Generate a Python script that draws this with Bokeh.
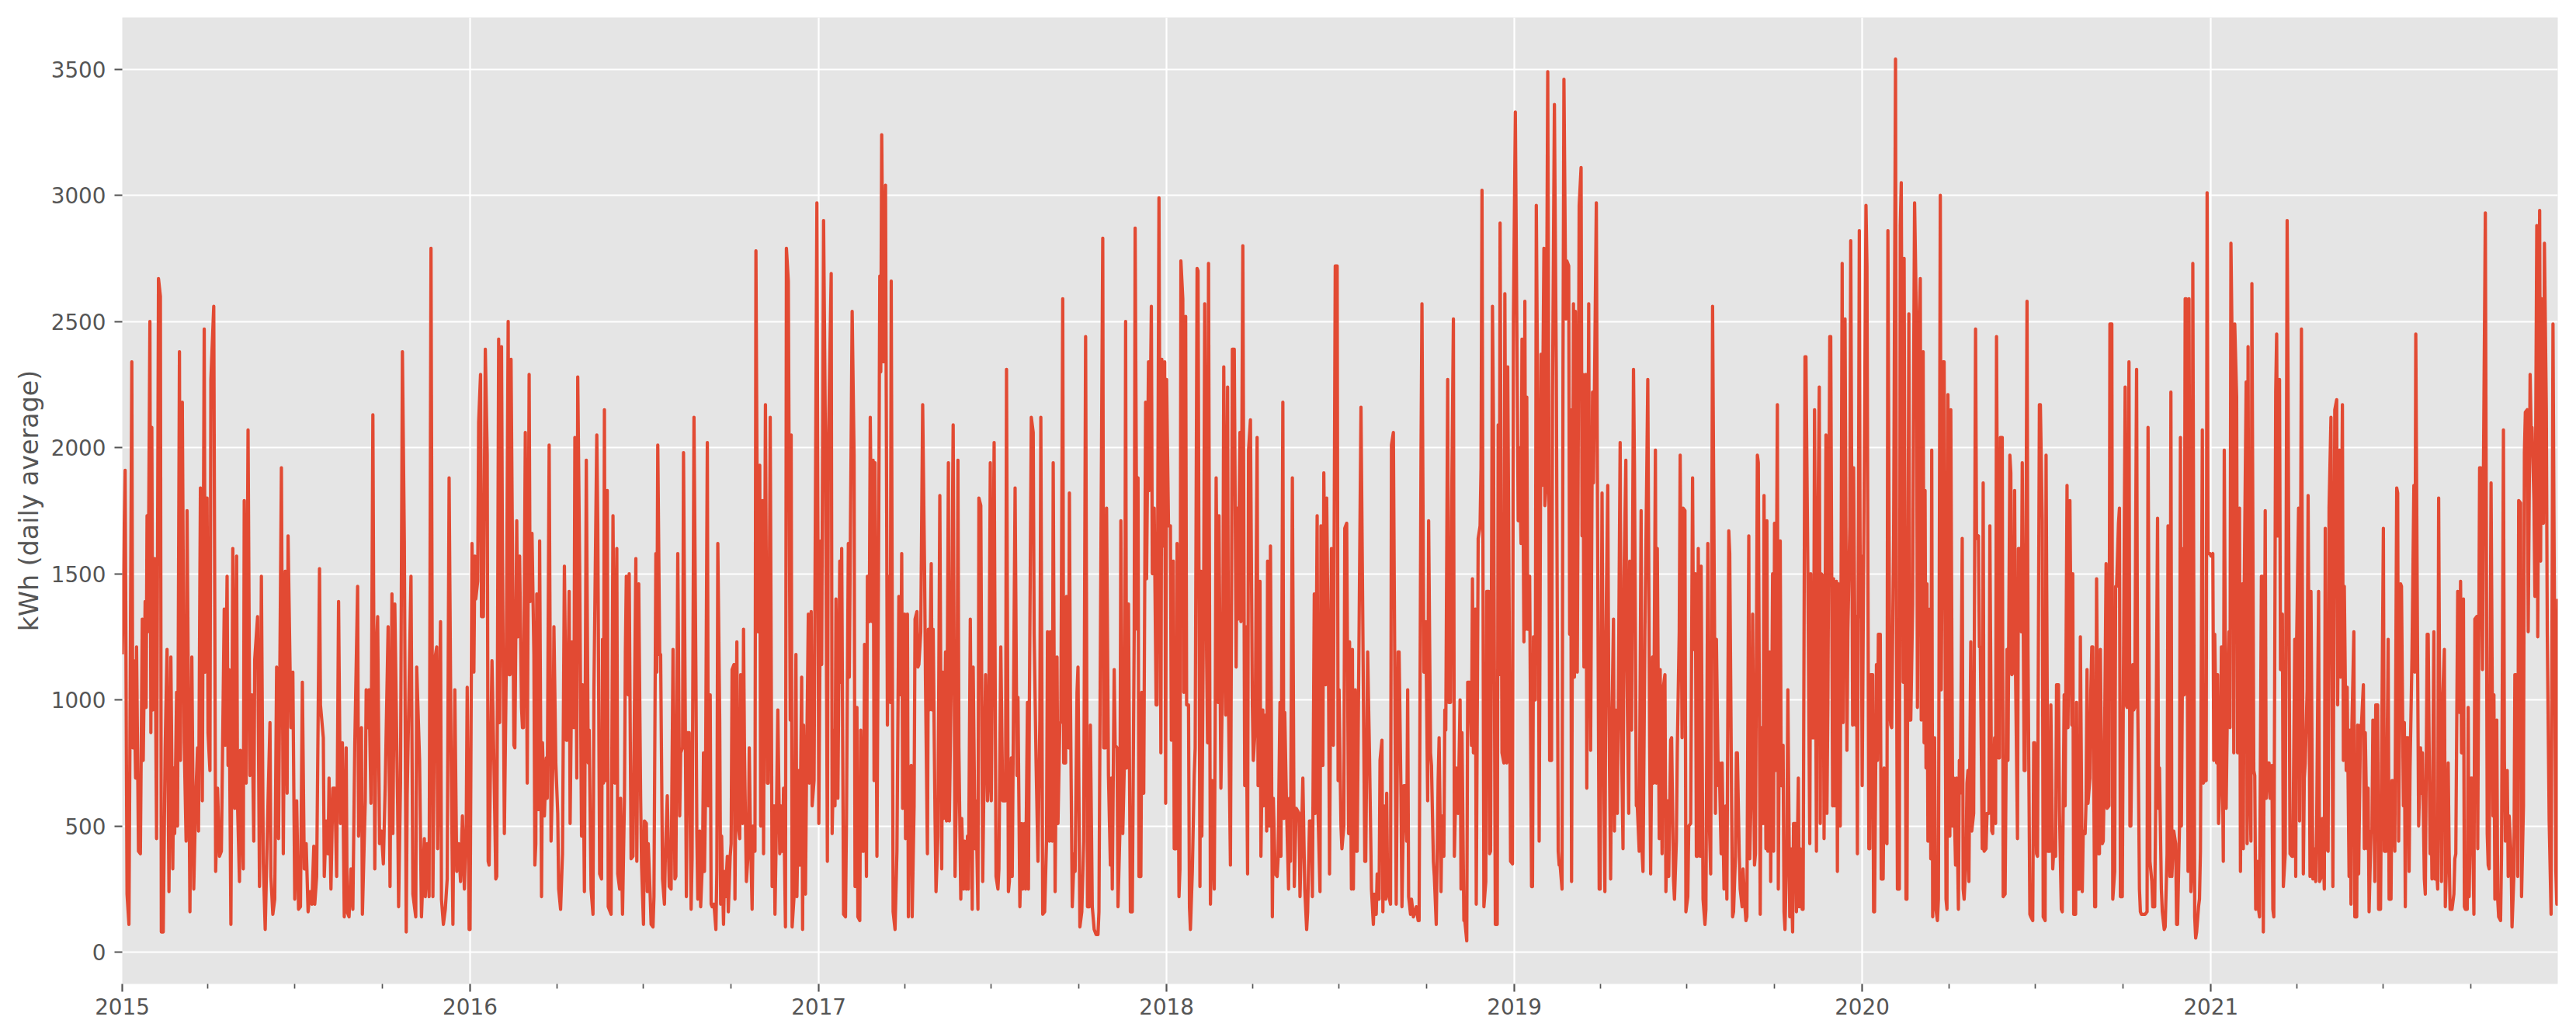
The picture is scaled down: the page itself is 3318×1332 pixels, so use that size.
from datetime import datetime, timedelta
from bokeh.plotting import figure
from bokeh.models import ColumnDataSource, FixedTicker, DatetimeTickFormatter, Range1d
from bokeh.embed import file_html
from bokeh.resources import INLINE

# (day of year offset, kWh daily average), one list per year
y2015 = [(0,1180),(3,1910),(5,230),(7,110),(8,810),(10,2340),(11,810),(12,1155),(14,690),(15,1210),(17,400),(19,390),(21,1320),(22,760),(24,1390),(25,970),(26,1730),(27,1270),(29,2500),(30,870),(31,2080),(32,960),(34,1560),(35,990),(36,450),(38,2670),(40,2600),(41,80),(43,80),(45,810),(47,1200),(49,240),(51,1170),(53,330),(54,730),(55,470),(57,1030),(58,500),(60,2380),(61,760),(63,2180),(65,830),(67,440),(68,1750),(71,160),(73,1170),(75,250),(77,600),(79,810),(80,480),(82,1840),(84,600),(86,2470),(87,1110),(89,1800),(90,870),(92,720),(93,2270),(96,2560),(98,320),(100,650),(102,380),(104,400),(107,1360),(108,820),(110,1490),(111,740),(112,1120),(114,110),(116,1600),(118,570),(120,1570),(121,580),(123,280),(124,800),(127,330),(128,1790),(130,670),(132,2070),(134,700),(136,1020),(138,440),(139,1160),(142,1330),(144,260),(146,1490),(148,350),(150,90),(153,600),(155,910),(156,300),(158,150),(160,210),(162,1130),(164,450),(167,1920),(169,390),(171,1510),(173,630),(174,1650),(177,890),(179,1110),(181,210),(183,600),(185,170),(187,180),(189,1070),(191,330),(193,430),(195,160),(197,240),(199,190),(201,420),(202,190),(204,300),(207,1520),(208,980),(211,850),(212,300),(214,520),(216,390),(217,690),(219,250),(221,650),(223,650),(225,300),(227,1390),(229,510),(231,830),(233,140),(235,810),(236,160),(238,140),(240,330),(242,170),(244,820),(247,1450),(248,460),(251,890),(252,150),(255,600),(256,1040),(258,890),(259,1040),(261,590),(263,2130),(265,330),(267,1230),(268,1330),(270,430),(272,480),(274,350),(276,670),(279,1290),(281,260),(283,1420),(284,470),(286,1380),(289,580),(290,180),(292,670),(294,2380),(296,1630),(298,80),(299,620),(303,1490),(305,230),(308,140),(309,1130),(312,760),(314,140),(317,450),(318,220),(320,430),(322,220),(324,2790),(326,220),(328,1160),(330,1210),(331,410),(334,1310),(335,210),(337,110),(339,170),(341,290),(343,1880),(345,820),(347,110),(349,1040),(351,320),(353,430),(355,280),(357,540),(359,250),(361,510),(362,1050),(364,90)]

y2016 = [(0,90),(2,1620),(4,1110),(5,1570),(6,1400),(8,1470),(9,2100),(11,2290),(12,1330),(14,1330),(16,2390),(18,1970),(19,360),(20,345),(23,1155),(25,760),(27,290),(28,300),(30,2430),(31,910),(33,2400),(34,1570),(36,470),(38,1130),(40,2500),(41,1100),(42,1100),(43,2350),(46,820),(47,810),(49,1710),(50,1250),(52,1570),(54,970),(55,890),(56,890),(58,2060),(60,670),(62,2290),(63,1390),(65,1660),(67,1180),(68,345),(69,430),(70,1420),(72,565),(73,1630),(75,220),(76,830),(78,540),(80,770),(81,610),(83,2010),(85,440),(87,760),(88,1290),(90,750),(92,550),(93,250),(95,170),(97,390),(99,1530),(101,840),(102,840),(104,1430),(105,510),(107,1230),(109,890),(110,2040),(112,690),(113,2280),(115,1530),(117,460),(118,1060),(120,240),(122,1950),(124,750),(125,880),(127,250),(129,150),(130,1040),(133,2050),(134,1700),(136,310),(138,290),(139,1240),(140,670),(141,2150),(142,680),(144,1830),(145,180),(148,150),(150,1730),(152,670),(154,1600),(155,310),(157,250),(158,610),(160,150),(162,600),(163,1190),(164,1490),(166,1020),(167,1500),(169,370),(171,380),(174,1560),(175,360),(177,1460),(179,610),(180,345),(182,110),(183,520),(185,510),(186,240),(187,430),(189,230),(190,110),(192,100),(193,220),(195,1580),(196,1110),(197,2010),(199,1180),(200,1180),(202,290),(204,190),(205,390),(207,620),(209,260),(211,250),(213,1200),(215,290),(216,300),(218,1580),(220,540),(221,790),(223,810),(224,1980),(226,850),(227,220),(228,870),(230,870),(232,170),(233,370),(235,2120),(237,1110),(238,470),(239,210),(241,480),(242,180),(244,370),(245,790),(246,320),(247,590),(249,2020),(250,580),(252,1020),(253,190),(254,180),(256,190),(258,90),(259,320),(260,1620),(262,920),(263,190),(264,460),(266,110),(267,320),(268,220),(270,380),(271,160),(273,380),(274,430),(275,1120),(277,1140),(278,210),(280,1230),(281,510),(283,450),(284,1100),(286,510),(287,1280),(288,790),(290,280),(292,400),(293,810),(294,530),(296,170),(297,500),(299,400),(300,2780),(302,1270),(304,1930),(305,500),(307,1790),(308,390),(310,2170),(312,670),(313,670),(315,2120),(317,260),(319,580),(320,150),(321,390),(323,960),(325,390),(326,580),(328,400),(329,650),(331,100),(332,2790),(334,2660),(336,920),(337,2050),(338,100),(340,220),(342,1180),(343,220),(345,720),(346,345),(348,1090),(349,90),(350,900),(352,230),(353,670),(355,1340),(356,670),(358,1350),(359,580),(361,680),(364,2970)]

y2017 = [(0,510),(2,1630),(3,1140),(5,2900),(7,2000),(9,360),(10,1990),(13,2690),(14,470),(16,880),(17,580),(18,1400),(20,610),(22,1550),(23,1070),(24,1600),(26,150),(28,140),(29,510),(31,1620),(32,1090),(35,2540),(37,1970),(38,260),(40,970),(41,140),(43,125),(44,880),(46,400),(47,400),(48,1220),(50,300),(51,1490),(53,1310),(54,2120),(56,1310),(57,1950),(58,680),(59,1940),(61,380),(63,1780),(64,2680),(65,2300),(66,3240),(68,2340),(70,3040),(72,900),(73,1490),(75,990),(76,2660),(78,160),(80,90),(82,400),(84,1410),(86,1020),(87,1580),(88,570),(90,1340),(91,450),(93,1340),(94,140),(95,720),(97,740),(98,140),(100,580),(101,1320),(103,1350),(104,1130),(105,1140),(107,1270),(109,2170),(111,1510),(112,1060),(114,390),(115,1280),(116,960),(118,1540),(119,960),(120,1280),(122,530),(123,240),(125,460),(127,1810),(129,330),(130,1110),(131,530),(133,1190),(134,520),(136,1940),(137,520),(139,1090),(141,2090),(143,300),(145,760),(146,1950),(147,810),(149,210),(150,530),(152,250),(153,440),(155,250),(156,460),(157,250),(159,1320),(161,170),(162,1130),(164,410),(165,600),(167,170),(168,1800),(170,1770),(172,280),(173,580),(175,1100),(177,600),(178,670),(180,1940),(181,600),(184,2020),(186,300),(188,250),(189,330),(191,1210),(193,600),(194,600),(196,600),(197,2310),(199,240),(200,280),(202,770),(203,300),(204,810),(206,1840),(208,700),(209,1010),(211,180),(213,510),(214,250),(216,510),(217,250),(219,990),(220,250),(221,990),(223,2120),(225,2060),(226,1260),(228,760),(230,360),(232,920),(233,2120),(235,150),(237,160),(239,440),(240,1270),(242,440),(243,1270),(245,440),(246,1940),(248,240),(250,1170),(251,510),(253,910),(254,910),(256,2590),(257,750),(259,750),(260,1410),(262,810),(263,1820),(264,1040),(266,180),(268,390),(269,320),(271,1030),(272,1130),(274,100),(276,160),(278,440),(280,2440),(282,180),(284,180),(285,900),(287,180),(289,90),(291,70),(293,70),(294,160),(296,1530),(298,2830),(299,810),(301,810),(302,1760),(304,700),(306,345),(307,690),(308,250),(310,1120),(311,820),(313,810),(314,180),(316,480),(317,1710),(319,470),(321,800),(322,2500),(323,730),(325,1380),(327,160),(329,160),(331,1270),(332,2870),(334,1280),(335,1880),(336,300),(338,300),(339,1030),(341,630),(343,2180),(344,1480),(346,2340),(347,1830),(349,2560),(350,1500),(352,1760),(354,980),(355,980),(357,2990),(359,790),(360,2350),(362,1610),(363,2340),(364,590)]

y2018 = [(0,2270),(2,1690),(4,1690),(5,840),(7,1550),(8,410),(10,410),(11,1620),(13,220),(14,330),(15,2740),(17,2590),(18,1030),(20,2520),(21,980),(23,980),(24,180),(25,90),(27,320),(29,700),(30,810),(32,2710),(33,2700),(35,260),(36,1510),(37,460),(39,1510),(40,2570),(42,1170),(43,830),(44,2730),(46,190),(48,680),(50,250),(51,900),(52,1880),(54,990),(55,1730),(57,650),(59,1180),(60,2320),(62,940),(64,2240),(65,970),(67,345),(68,1250),(69,2390),(71,2390),(73,1130),(74,1760),(75,1320),(77,2060),(78,1310),(80,2800),(82,660),(83,1290),(85,310),(86,1990),(88,2110),(90,980),(91,760),(93,890),(95,2040),(96,660),(98,1470),(99,380),(101,960),(102,580),(104,940),(105,480),(106,1550),(108,500),(109,1610),(111,140),(112,610),(114,310),(116,300),(117,370),(119,990),(120,380),(122,2180),(123,530),(124,950),(126,550),(128,250),(129,610),(130,360),(132,1880),(134,260),(136,570),(139,550),(140,220),(142,530),(143,690),(145,250),(147,90),(148,160),(150,520),(152,520),(153,220),(155,1420),(156,550),(158,1730),(159,550),(161,240),(162,1690),(164,740),(165,1900),(167,1060),(168,1800),(170,1060),(171,310),(173,1600),(174,1550),(175,820),(177,2720),(179,2720),(180,680),(181,1040),(183,500),(184,410),(186,500),(187,1680),(189,1700),(191,470),(192,1230),(194,250),(195,1200),(196,250),(198,1040),(199,400),(200,400),(202,1270),(204,2160),(206,1270),(208,360),(209,360),(211,1190),(213,770),(215,250),(217,110),(218,230),(220,150),(221,310),(223,210),(224,760),(226,840),(227,160),(228,580),(230,210),(231,630),(232,240),(234,210),(235,190),(236,2010),(238,2060),(240,770),(241,190),(243,1190),(244,1190),(246,620),(247,180),(249,660),(250,660),(252,440),(253,1040),(254,220),(256,150),(257,210),(259,140),(260,150),(262,180),(264,125),(265,125),(267,1970),(268,2570),(270,1110),(272,1310),(274,600),(275,1710),(277,790),(278,740),(280,360),(281,300),(283,110),(285,680),(286,850),(288,240),(289,540),(291,380),(292,960),(293,880),(295,2270),(296,990),(298,990),(299,1700),(301,2510),(302,380),(304,730),(306,550),(308,1000),(309,250),(310,870),(312,125),(313,125),(315,45),(316,1070),(318,1070),(320,820),(321,1480),(322,790),(324,1360),(325,190),(327,1640),(329,1690),(330,1920),(331,3020),(333,180),(335,280),(336,1430),(338,1430),(339,390),(340,400),(342,2560),(343,2120),(345,110),(347,110),(348,2090),(349,1100),(350,2890),(352,790),(354,750),(355,2610),(357,750),(358,2320),(360,1050),(361,360),(363,350),(364,2510)]

y2019 = [(1,3330),(4,1710),(5,2000),(7,1620),(8,2430),(10,1230),(11,2580),(12,1280),(13,2200),(14,1280),(16,1490),(18,260),(19,260),(20,1250),(22,1000),(23,2960),(25,1850),(26,440),(28,2370),(29,1850),(31,2790),(32,1770),(33,1830),(35,3490),(36,2230),(37,760),(39,760),(40,2200),(42,3360),(44,2290),(46,400),(47,345),(48,345),(50,250),(51,2310),(52,3460),(54,2510),(55,2740),(57,2720),(58,1260),(59,2150),(60,280),(62,2570),(63,1090),(64,2540),(66,1110),(67,1990),(68,2960),(70,3110),(71,1650),(72,2290),(73,1130),(75,2290),(76,650),(78,2570),(79,1290),(80,800),(82,2220),(83,1860),(84,2220),(86,2970),(87,1970),(89,250),(90,250),(92,1820),(93,1040),(95,240),(96,1230),(98,1850),(99,1040),(101,290),(102,810),(104,1320),(105,480),(106,960),(108,550),(109,960),(111,2020),(112,950),(114,410),(115,1480),(117,1950),(118,1140),(120,550),(121,1550),(123,880),(125,2310),(126,1930),(128,580),(129,580),(131,400),(133,1750),(134,400),(135,320),(137,1270),(139,1920),(140,2270),(142,810),(143,310),(145,1170),(146,670),(148,1990),(149,670),(150,1600),(152,450),(153,1120),(155,390),(156,1040),(158,1100),(159,240),(161,600),(162,300),(164,840),(165,850),(167,290),(168,210),(170,440),(171,810),(173,1270),(174,1970),(176,850),(177,1760),(179,1750),(180,160),(182,220),(183,500),(185,510),(187,1880),(188,1200),(190,1500),(191,380),(192,380),(193,1600),(195,380),(196,1530),(198,210),(200,110),(201,170),(203,1620),(204,600),(206,310),(208,2560),(210,1320),(211,550),(212,1240),(214,660),(215,750),(217,390),(218,750),(220,250),(222,580),(223,210),(225,1670),(226,1580),(228,580),(229,140),(230,160),(232,380),(233,790),(234,790),(236,380),(237,250),(239,180),(240,330),(242,180),(243,125),(244,140),(246,1650),(247,370),(249,720),(250,1340),(252,345),(253,390),(255,1970),(256,1940),(258,150),(259,890),(261,510),(262,1810),(264,410),(265,1710),(266,400),(268,1190),(269,280),(271,1500),(272,400),(273,1700),(274,720),(276,2170),(277,250),(279,1630),(280,660),(282,820),(283,160),(284,90),(286,440),(287,1040),(289,140),(290,410),(292,80),(293,510),(295,510),(296,160),(298,690),(299,180),(300,410),(302,170),(303,170),(305,2360),(306,2360),(308,1500),(310,430),(311,1500),(312,850),(314,850),(315,2150),(317,400),(318,1500),(320,2240),(321,510),(322,1500),(324,1490),(325,450),(327,2050),(328,550),(329,990),(331,2440),(332,2440),(334,580),(335,1480),(336,580),(338,1470),(339,320),(340,1460),(342,500),(344,2730),(345,910),(347,2510),(349,800),(350,1270),(352,1690),(353,2820),(355,900),(356,1920),(358,900),(359,1330),(360,390),(362,2860),(363,1330),(364,1570)]

y2020 = [(0,660),(4,2960),(5,2720),(7,410),(8,410),(9,1100),(11,1100),(12,160),(13,160),(15,1140),(16,760),(17,1260),(19,1260),(20,290),(22,290),(23,730),(24,440),(26,430),(27,2860),(29,950),(30,900),(31,890),(33,1640),(35,3540),(36,1260),(37,250),(39,250),(40,2880),(41,3050),(43,1070),(44,2750),(46,210),(47,210),(49,2530),(50,920),(51,920),(53,1380),(54,2290),(55,2970),(57,2490),(58,970),(60,2500),(61,2670),(62,920),(64,2380),(65,830),(66,1830),(67,730),(68,1460),(69,440),(71,1360),(72,370),(73,1990),(74,140),(76,850),(77,180),(79,125),(80,210),(82,3000),(83,1040),(85,2340),(86,2340),(88,210),(89,170),(90,2210),(92,460),(93,2150),(95,500),(96,690),(98,345),(99,690),(101,170),(102,760),(103,630),(105,1640),(106,250),(107,210),(109,370),(110,670),(111,720),(112,280),(114,1230),(115,480),(117,550),(119,2470),(120,1640),(122,1650),(123,1210),(124,1210),(126,410),(127,1860),(128,400),(130,410),(131,550),(133,550),(134,1690),(136,480),(137,470),(139,850),(140,510),(141,2440),(143,770),(144,770),(145,2040),(147,2040),(148,220),(150,230),(152,1200),(153,760),(155,1970),(156,1900),(157,1100),(159,1110),(160,1830),(161,1100),(163,450),(164,1600),(165,1600),(167,1270),(168,1940),(170,720),(171,720),(173,2580),(174,1200),(176,150),(177,140),(179,125),(180,830),(181,830),(183,390),(184,380),(186,2170),(187,2170),(189,1710),(190,140),(192,125),(193,1970),(195,400),(197,400),(198,980),(200,330),(201,400),(203,380),(204,1060),(206,1060),(207,570),(209,170),(210,160),(212,1020),(213,580),(215,1850),(216,890),(218,1790),(220,900),(221,1500),(222,150),(224,150),(225,990),(226,250),(228,250),(229,1250),(231,240),(232,480),(234,470),(235,600),(236,1120),(237,590),(239,690),(240,1040),(241,1210),(242,1210),(244,180),(245,180),(246,1480),(248,390),(249,390),(250,1200),(252,430),(253,440),(254,680),(256,1540),(257,570),(259,580),(260,2490),(262,2490),(263,210),(265,320),(266,1450),(267,1450),(269,1700),(270,1760),(271,220),(273,220),(274,980),(276,2240),(277,980),(278,970),(280,2340),(281,500),(282,500),(284,1140),(285,960),(286,970),(288,2310),(289,1070),(291,250),(292,160),(293,150),(295,150),(296,150),(297,150),(299,160),(300,2080),(302,360),(304,280),(305,180),(307,180),(308,570),(310,1720),(311,570),(312,730),(314,250),(315,160),(317,90),(318,100),(320,390),(321,1690),(323,300),(324,2220),(325,300),(327,480),(329,430),(330,110),(331,110),(333,500),(334,2040),(335,500),(337,1600),(338,1020),(339,2590),(340,2590),(342,320),(343,2590),(345,240),(346,320),(347,2730),(349,140),(350,56),(351,80),(353,180),(354,210),(355,400),(357,2070),(358,670),(359,680),(361,680),(362,3010),(363,1580),(365,1580)]

y2021 = [(0,1570),(2,1580),(3,760),(4,1260),(6,750),(7,1100),(8,510),(10,740),(11,1210),(13,360),(14,1990),(16,570),(17,890),(19,1270),(20,890),(21,2810),(23,2160),(24,790),(25,2490),(27,2200),(28,790),(30,1760),(31,320),(33,1460),(34,410),(35,1460),(37,2260),(38,430),(39,2400),(40,840),(42,440),(43,2650),(45,720),(46,700),(47,170),(49,360),(50,170),(51,140),(53,1490),(54,1490),(55,80),(57,1750),(58,610),(60,750),(61,750),(62,610),(64,740),(65,170),(66,140),(68,2220),(69,2450),(70,1650),(72,2270),(73,1120),(75,1340),(76,260),(78,390),(80,2900),(81,2220),(83,390),(85,380),(86,380),(88,1240),(89,300),(90,1240),(92,1760),(93,520),(95,2470),(97,310),(98,690),(99,750),(101,1040),(102,1810),(104,300),(105,1430),(107,290),(108,410),(110,280),(111,510),(113,1430),(114,280),(116,300),(117,530),(119,250),(120,1680),(121,410),(123,400),(124,1760),(126,2120),(127,1130),(128,260),(130,2150),(132,2190),(133,980),(135,1990),(136,1090),(138,2170),(139,760),(140,1450),(142,720),(143,1050),(145,300),(146,880),(147,190),(148,900),(150,1270),(151,140),(153,140),(154,900),(155,310),(157,900),(158,900),(160,1060),(161,410),(162,870),(164,410),(165,650),(166,160),(168,480),(169,480),(170,920),(172,280),(173,980),(175,980),(176,170),(178,170),(179,690),(181,1680),(182,400),(184,400),(186,1240),(187,210),(189,210),(190,680),(191,680),(193,400),(195,1840),(196,1820),(197,440),(199,1460),(200,1450),(202,580),(203,910),(204,180),(205,850),(207,850),(208,320),(209,730),(211,1170),(213,1850),(214,1110),(215,2450),(217,1100),(218,500),(220,810),(221,630),(222,790),(224,290),(225,230),(227,1260),(228,1260),(230,390),(231,650),(232,290),(234,1270),(235,290),(236,390),(238,250),(239,1800),(240,1030),(242,280),(243,980),(245,1200),(246,180),(247,320),(249,750),(250,400),(251,170),(253,170),(255,230),(256,370),(257,390),(259,1430),(261,950),(262,1470),(263,790),(265,1400),(266,180),(267,170),(269,170),(270,970),(271,220),(273,690),(274,690),(276,150),(277,1320),(279,1330),(280,410),(282,1920),(283,1920),(285,1120),(286,1900),(288,2930),(290,470),(291,345),(292,330),(294,1860),(296,540),(297,1020),(298,210),(300,920),(301,210),(302,140),(304,125),(305,390),(307,2070),(308,760),(309,440),(311,720),(312,300),(313,540),(315,390),(316,100),(318,310),(319,1100),(320,1100),(322,300),(323,1790),(325,1780),(326,220),(328,580),(329,1980),(330,2140),(332,2150),(333,1270),(335,2290),(336,2080),(337,2080),(339,1790),(340,1410),(342,2880),(343,1250),(345,2940),(346,1550),(347,2590),(349,1700),(350,2810),(352,2150),(353,1270),(355,520),(357,150),(359,2490),(360,1730),(362,320),(363,190),(364,1400)]

years = [2015, 2016, 2017, 2018, 2019, 2020, 2021]
yearly = [y2015, y2016, y2017, y2018, y2019, y2020, y2021]
y_ticks = [0, 500, 1000, 1500, 2000, 2500, 3000, 3500]
y_label = "kWh (daily average)"

dates, kwh = [], []
for yr, rows in zip(years, yearly):
    base = datetime(yr, 1, 1)
    for d, v in rows:
        dates.append(base + timedelta(days=d))
        kwh.append(v)

src = ColumnDataSource(dict(x=dates, y=kwh))

def ms(dt):
    return (dt - datetime(1970, 1, 1)).total_seconds() * 1000.0

major = [ms(datetime(y, 1, 1)) for y in years]
minor = [ms(datetime(y, m, 1)) for y in years for m in (4, 7, 10)]

FONT = "DejaVu Sans"
GREY = "#555555"

p = figure(x_axis_type="datetime", output_backend="svg", toolbar_location=None,
           frame_width=3137, frame_height=1245,
           min_border_left=157, min_border_right=22, min_border_top=22, min_border_bottom=60,
           x_range=Range1d(datetime(2015, 1, 1), datetime(2021, 12, 31)),
           y_range=Range1d(-126, 3705))
p.background_fill_color = "#E5E5E5"
p.border_fill_color = "white"
p.outline_line_color = None

p.line("x", "y", source=src, line_color="#E24A33", line_width=4.2, line_join="round")

xa = p.xaxis[0]
xa.ticker = FixedTicker(ticks=major, minor_ticks=minor)
xa.formatter = DatetimeTickFormatter(years="%Y", months="%Y", days="%Y", hours="%Y",
                                     hourmin="%Y", minutes="%Y", minsec="%Y", seconds="%Y",
                                     milliseconds="%Y", microseconds="%Y")
ya = p.yaxis[0]
ya.ticker = FixedTicker(ticks=y_ticks)
ya.axis_label = y_label

for ax in (xa, ya):
    ax.axis_line_color = None
    ax.major_tick_line_color = GREY
    ax.major_tick_line_width = 2.2
    ax.major_tick_out = 10
    ax.major_tick_in = 0
    ax.minor_tick_line_color = GREY
    ax.minor_tick_line_width = 1.7
    ax.minor_tick_out = 6
    ax.minor_tick_in = 0
    ax.major_label_text_font = FONT
    ax.major_label_text_font_size = "27.8px"
    ax.major_label_text_color = GREY
    ax.axis_label_text_font = FONT
    ax.axis_label_text_font_size = "33.3px"
    ax.axis_label_text_font_style = "normal"
    ax.axis_label_text_color = GREY
ya.minor_tick_line_color = None
xa.major_label_standoff = 8
ya.major_label_standoff = 11
ya.axis_label_standoff = 6

for g in (p.xgrid[0], p.ygrid[0]):
    g.grid_line_color = "white"
    g.grid_line_width = 2.2

open("out.html", "w").write(file_html(p, INLINE))
